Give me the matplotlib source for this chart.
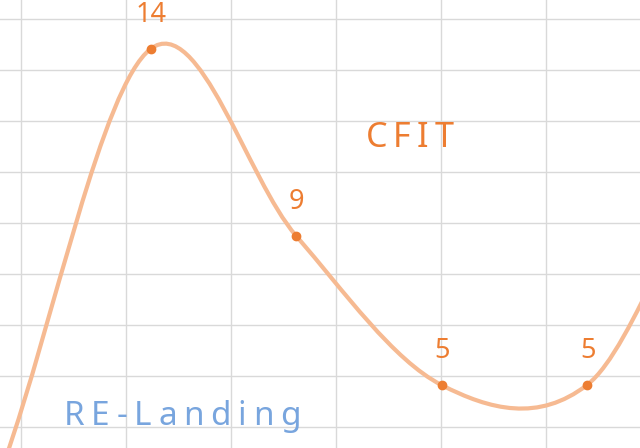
import matplotlib
matplotlib.use("Agg")
import matplotlib.pyplot as plt
from matplotlib.path import Path
from matplotlib.patches import PathPatch
import numpy as np

# ---- data (visible points are categories 1..4; 0, 5, 6 lie outside the view) ----
categories = [0, 1, 2, 3, 4, 5, 6]
values = [3, 14, 9, 5, 5, 11, 8]
labelled = [False, True, True, True, True, False, False]
text_upper = "CFIT"
text_lower = "RE-Landing"

ORANGE = "#ED7D31"
LINE = "#F6BA92"
BLUE = "#78A5DE"
GRID = "#D9D9D9"

plt.rcParams['font.family'] = ['Noto Sans', 'DejaVu Sans']

W, H = 640, 448
fig = plt.figure(figsize=(W / 100, H / 100), dpi=100)
ax = fig.add_axes([0, 0, 1, 1])

# view window (pixel scale: 145.5 px per category, 37.33 px per unit)
xpx, ypx = 145.5, 448 / 12.0
x_left = 1 - 150.5 / xpx
y_top = 14 + 49 / ypx

# background cell grid
gx0 = x_left + 20.5 / xpx
gy0 = y_top - 19.3 / ypx
ax.set_xticks(gx0 + np.arange(0, 7) * (105 / xpx))
ax.set_yticks(gy0 - np.arange(0, 10) * (51 / ypx))
ax.grid(True, color=GRID, linewidth=1.0)
ax.tick_params(length=0, labelbottom=False, labelleft=False)
for s in ax.spines.values():
    s.set_visible(False)
ax.set_axisbelow(True)

# smooth (Catmull-Rom style Bezier) line through points
xs = np.array(categories, dtype=float)
ys = np.array(values, dtype=float)
n = len(xs)
mx = np.zeros(n)
my = np.zeros(n)
for i in range(n):
    if i == 0:
        mx[i], my[i] = xs[1] - xs[0], ys[1] - ys[0]
    elif i == n - 1:
        mx[i], my[i] = xs[-1] - xs[-2], ys[-1] - ys[-2]
    else:
        mx[i] = (xs[i + 1] - xs[i - 1]) / 2
        my[i] = (ys[i + 1] - ys[i - 1]) / 2
verts = [(xs[0], ys[0])]
codes = [Path.MOVETO]
for i in range(n - 1):
    verts += [(xs[i] + mx[i] / 3, ys[i] + my[i] / 3),
              (xs[i + 1] - mx[i + 1] / 3, ys[i + 1] - my[i + 1] / 3),
              (xs[i + 1], ys[i + 1])]
    codes += [Path.CURVE4] * 3
ax.add_patch(PathPatch(Path(verts, codes), fill=False, edgecolor=LINE,
                       linewidth=3.0, capstyle='round', zorder=3))

ax.plot(xs, ys, 'o', color=ORANGE, markersize=6, zorder=4)

ax.set_xlim(x_left, x_left + W / xpx)
ax.set_ylim(y_top - H / ypx, y_top)

for x, y, lab in zip(xs, ys, labelled):
    if lab:
        ax.annotate(f"{int(y)}", (x, y), xytext=(0.5, 19.3), textcoords='offset points',
                    ha='center', va='baseline', fontsize=19.5, color=ORANGE)

# spaced-out text labels
fig.canvas.draw()
renderer = fig.canvas.get_renderer()


def spaced(s, x0_px, base_px, gap_px, color, size):
    x = x0_px
    for ch in s:
        t = fig.text(x / W, 1 - base_px / H, ch, fontsize=size, color=color,
                     ha='left', va='baseline')
        w = t.get_window_extent(renderer).width
        x += w + gap_px


spaced(text_upper, 365.5, 146.5, 6.0, ORANGE, 24.5)
spaced(text_lower, 64, 425, 6.6, BLUE, 24.0)

fig.savefig("out.png", dpi=100)
